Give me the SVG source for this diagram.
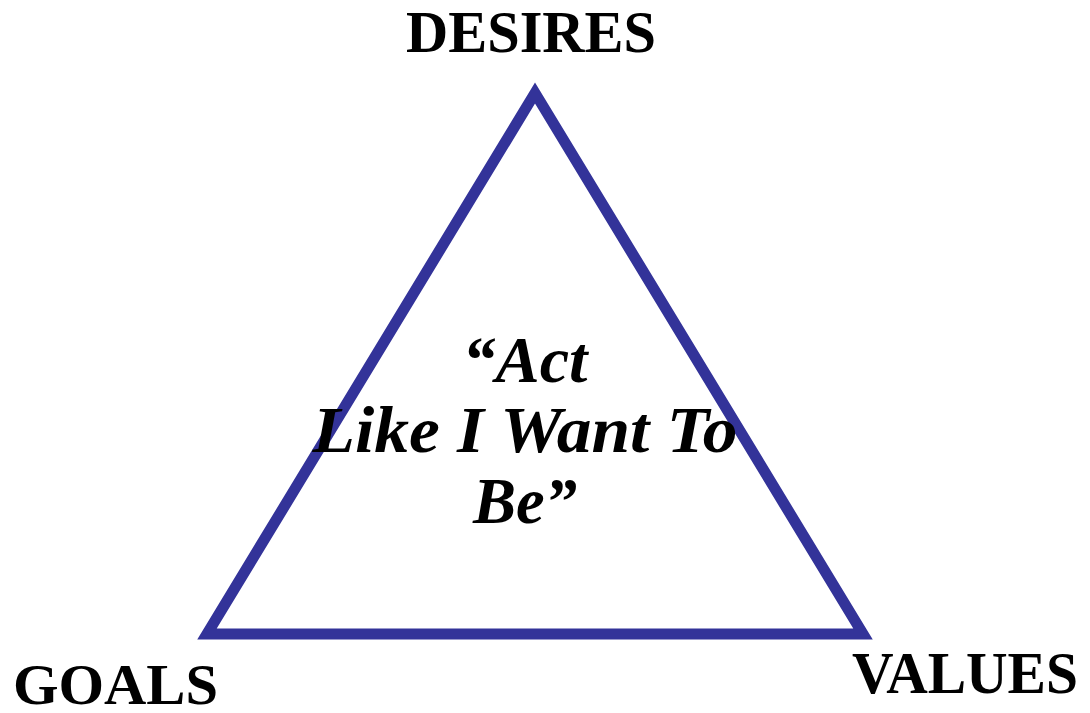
<svg xmlns="http://www.w3.org/2000/svg" width="1090" height="713" viewBox="0 0 1090 713">
<style>
.lbl{font-family:"Liberation Serif","Times New Roman",serif;font-weight:bold;fill:#000}
.ctr{font-family:"Liberation Serif","Times New Roman",serif;font-weight:bold;font-style:italic;fill:#000;text-anchor:middle}
</style>
<rect width="1090" height="713" fill="#fff"/>
<g id="connectors">
<polygon points="535,93 863,634 207,634" fill="none" stroke="#333399" stroke-width="11" stroke-linejoin="miter" stroke-miterlimit="10"/>
</g>
<g id="desires"><text class="lbl" x="406" y="52" font-size="60" textLength="250" lengthAdjust="spacingAndGlyphs">DESIRES</text></g>
<g id="goals"><text class="lbl" x="13" y="704" font-size="56" textLength="205" lengthAdjust="spacingAndGlyphs">GOALS</text></g>
<g id="values"><text class="lbl" x="852" y="693" font-size="60" textLength="226" lengthAdjust="spacingAndGlyphs">VALUES</text></g>
<g id="center">
<text class="ctr" x="525" y="382" font-size="65" textLength="125" lengthAdjust="spacingAndGlyphs">“Act</text>
<text class="ctr" x="525" y="452" font-size="65" textLength="425" lengthAdjust="spacingAndGlyphs">Like I Want To</text>
<text class="ctr" x="525" y="523" font-size="65" textLength="104" lengthAdjust="spacingAndGlyphs">Be”</text>
</g>
</svg>
